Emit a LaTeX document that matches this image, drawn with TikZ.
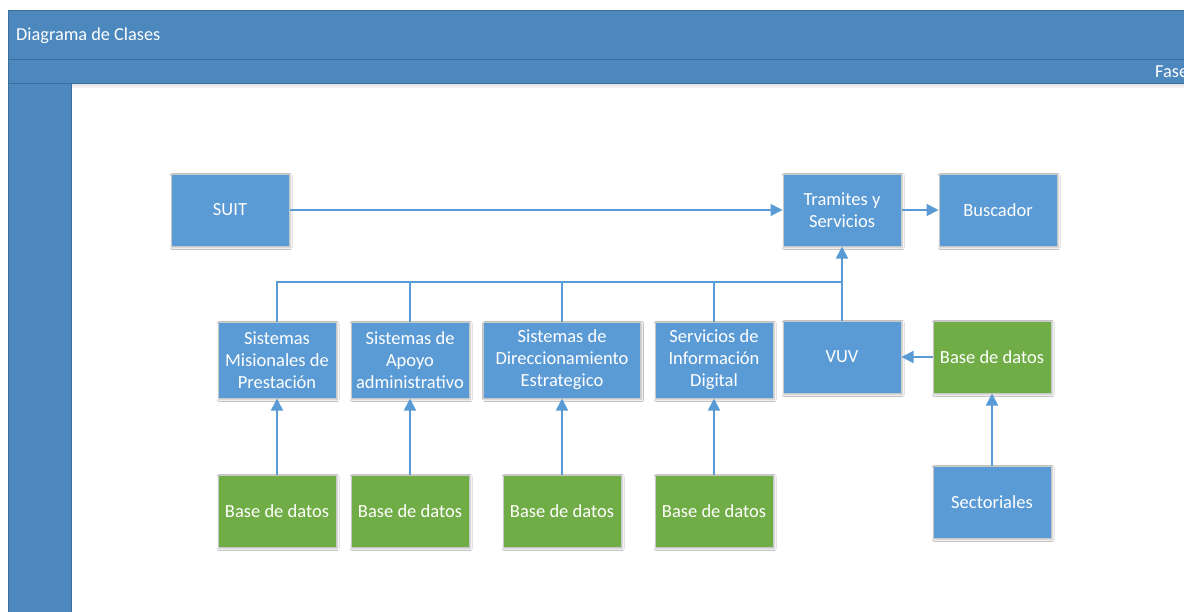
\documentclass[tikz,border=0pt]{standalone}
\usepackage{fontspec}
\setmainfont{Carlito}
\usetikzlibrary{arrows.meta,shadows.blur}
\definecolor{hdr}{RGB}{76,136,189}
\definecolor{hdrline}{RGB}{60,110,155}
\definecolor{nblue}{RGB}{91,155,213}
\definecolor{ngreen}{RGB}{112,173,71}
\definecolor{nline}{RGB}{91,155,213}
\definecolor{nborder}{RGB}{200,200,200}
\tikzset{
  box/.style={draw=nborder, line width=1pt, fill=nblue, text=white, align=center,
    minimum width=118pt, minimum height=72pt, inner sep=2pt,
    font=\fontsize{18.5}{22}\selectfont,
    blur shadow={shadow xshift=1.2pt, shadow yshift=-1.5pt, shadow blur radius=2pt, shadow opacity=30}},
  gbox/.style={box, fill=ngreen},
  wire/.style={draw=nline, line width=1.6pt},
  conn/.style={wire, -{Triangle[length=12pt,width=12pt]}},
  hdrtext/.style={text=white, font=\fontsize{18.3}{21}\selectfont, inner sep=0pt}
}
\begin{document}
\begin{tikzpicture}[x=1pt,y=-1pt]
\useasboundingbox (0,0) rectangle (1184,611);
\clip (0,0) rectangle (1184,611);
\fill[white] (0,0) rectangle (1184,611);
% frame
\fill[black!10] (71,83) rectangle (1190,86);
\fill[black!5] (71,86) rectangle (1190,88);
\filldraw[fill=hdr, draw=hdrline, line width=1pt] (8,10) rectangle (1195,59);
\filldraw[fill=hdr, draw=hdrline, line width=1pt] (8,59) rectangle (1195,83);
\filldraw[fill=hdr, draw=hdrline, line width=1pt] (8,83) rectangle (71,620);
\node[hdrtext, anchor=west] (title) at (16,36) {Diagrama de Clases};
\node[hdrtext, anchor=west] (fase) at (1155,72) {Fase};
% nodes
\node[box] (suit) at (230,210) {SUIT};
\node[box] (tram) at (842,210) {Tramites y\\Servicios};
\node[box] (busc) at (998,210) {Buscador};
\node[box, minimum height=76pt] (smp) at (277,360) {Sistemas\\Misionales de\\Prestación};
\node[box, minimum height=76pt] (sap) at (410,360) {Sistemas de\\Apoyo\\administrativo};
\node[box, minimum width=157pt, minimum height=76pt] (sde) at (562,360) {Sistemas de\\Direccionamiento\\Estrategico};
\node[box, minimum height=76pt] (sid) at (714,360) {Servicios de\\Información\\Digital};
\node[box] (vuv) at (842,357) {VUV};
\node[gbox] (bd5) at (992,357) {Base de datos};
\node[box] (sect) at (992,502) {Sectoriales};
\node[gbox] (bd1) at (277,511) {Base de datos};
\node[gbox] (bd2) at (410,511) {Base de datos};
\node[gbox] (bd3) at (562,511) {Base de datos};
\node[gbox] (bd4) at (714,511) {Base de datos};
% connectors
\coordinate (j) at (842,282);
\draw[conn] (suit) -- (tram);
\draw[conn] (tram) -- (busc);
\draw[wire] (smp.north) |- (j);
\draw[wire] (sap.north) |- (j);
\draw[wire] (sde.north) |- (j);
\draw[wire] (sid.north) |- (j);
\draw[conn] (vuv.north) -- (tram.south);
\draw[conn] (bd1) -- (smp);
\draw[conn] (bd2) -- (sap);
\draw[conn] (bd3) -- (sde);
\draw[conn] (bd4) -- (sid);
\draw[conn] (bd5) -- (vuv);
\draw[conn] (sect) -- (bd5);
\end{tikzpicture}
\end{document}
